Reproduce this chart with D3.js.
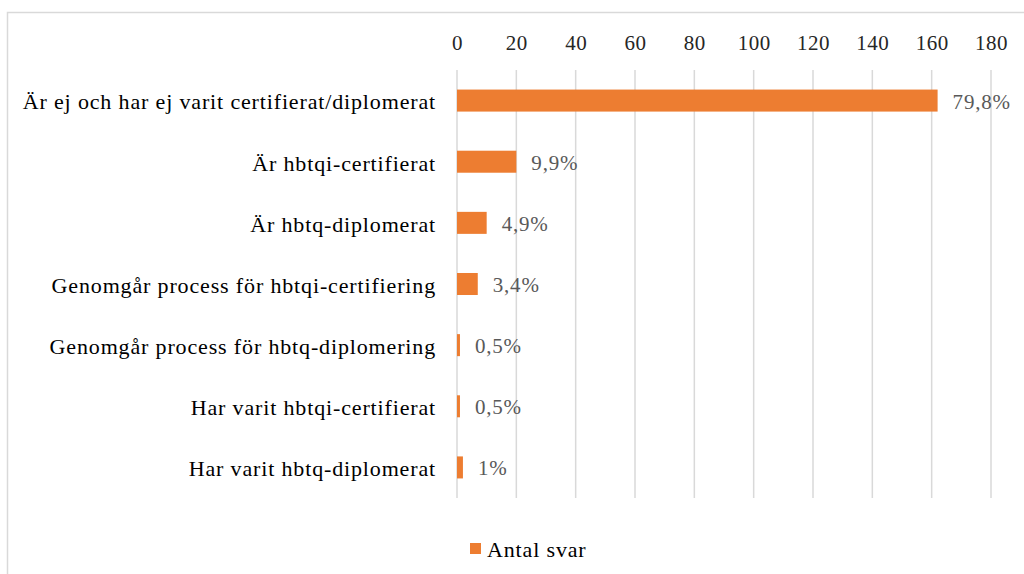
<!DOCTYPE html>
<html>
<head>
<meta charset="utf-8">
<script src="https://cdn.jsdelivr.net/npm/d3@7"></script>
<style>
  html, body { margin: 0; padding: 0; background: #fff; }
  svg { display: block; }
</style>
</head>
<body>
<svg id="chart" width="1024" height="574"></svg>
<script>
// ── Data ──────────────────────────────────────────────────────────────────
const categories = [
  "Är ej och har ej varit certifierat/diplomerat",
  "Är hbtqi-certifierat",
  "Är hbtq-diplomerat",
  "Genomgår process för hbtqi-certifiering",
  "Genomgår process för hbtq-diplomering",
  "Har varit hbtqi-certifierat",
  "Har varit hbtq-diplomerat"
];
const counts = [162, 20, 10, 7, 1, 1, 2];
const percentLabels = ["79,8%", "9,9%", "4,9%", "3,4%", "0,5%", "0,5%", "1%"];
const tickValues = [0, 20, 40, 60, 80, 100, 120, 140, 160, 180];
const seriesName = "Antal svar";

(function () {
  "use strict";

  const FONT = "'Liberation Serif', 'Times New Roman', serif";
  const ORANGE = "#ED7D31";
  const GRID = "#d9d9d9";

  const svg = d3.select("#chart");

  // outer frame (cut off at right and bottom like the reference)
  svg.append("rect")
    .attr("x", 7.5).attr("y", 12.5)
    .attr("width", 1030).attr("height", 600)
    .attr("fill", "none")
    .attr("stroke", GRID)
    .attr("stroke-width", 1.5);

  const plot = { left: 457, right: 991, top: 70, bottom: 498 };

  const x = d3.scaleLinear().domain([0, 180]).range([plot.left, plot.right]);
  const y = d3.scaleBand().domain(categories)
    .range([plot.top, plot.bottom]).paddingInner(0.64).paddingOuter(0.32);

  // gridlines
  svg.append("g").selectAll("line")
    .data(tickValues)
    .join("line")
    .attr("x1", d => x(d)).attr("x2", d => x(d))
    .attr("y1", plot.top).attr("y2", plot.bottom)
    .attr("stroke", GRID)
    .attr("stroke-width", 1.5);

  // top axis labels
  const axis = svg.append("g")
    .attr("transform", `translate(0,${plot.top - 20})`)
    .call(d3.axisTop(x).tickValues(tickValues).tickSize(0).tickPadding(0));
  axis.attr("font-family", FONT).attr("font-size", 21);
  axis.select(".domain").remove();
  axis.selectAll("text")
    .attr("fill", "#262626")
    .style("letter-spacing", "0.5px");

  // category labels
  const yAxis = svg.append("g")
    .attr("transform", `translate(${plot.left - 21},0)`)
    .call(d3.axisLeft(y).tickSize(0).tickPadding(0));
  yAxis.attr("font-family", FONT).attr("font-size", 22);
  yAxis.select(".domain").remove();
  yAxis.selectAll("text")
    .attr("dy", "0.4em")
    .attr("fill", "#000")
    .style("letter-spacing", "0.85px");

  // bars
  svg.append("g").selectAll("rect")
    .data(counts)
    .join("rect")
    .attr("x", x(0))
    .attr("y", (d, i) => y(categories[i]))
    .attr("width", d => x(d) - x(0))
    .attr("height", y.bandwidth())
    .attr("fill", ORANGE);

  // value labels
  svg.append("g").selectAll("text")
    .data(counts)
    .join("text")
    .attr("x", d => x(d) + 15)
    .attr("y", (d, i) => y(categories[i]) + y.bandwidth() / 2)
    .attr("dy", "0.38em")
    .attr("font-family", FONT)
    .attr("font-size", 21)
    .attr("fill", "#595959")
    .style("letter-spacing", "0.8px")
    .text((d, i) => percentLabels[i]);

  // legend
  const lg = svg.append("g").attr("transform", "translate(470,543)");
  lg.append("rect")
    .attr("width", 11).attr("height", 11)
    .attr("fill", ORANGE);
  lg.append("text")
    .attr("x", 17).attr("y", 5.5)
    .attr("dy", "0.38em")
    .attr("font-family", FONT)
    .attr("font-size", 22)
    .attr("fill", "#000")
    .style("letter-spacing", "0.85px")
    .text(seriesName);
})();
</script>
</body>
</html>
